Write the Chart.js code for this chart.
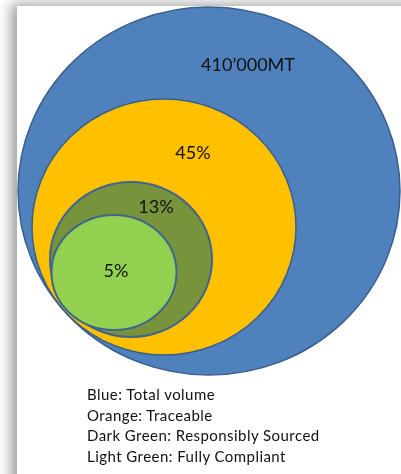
<!DOCTYPE html>
<html>
<head>
<meta charset="utf-8">
<script src="https://cdn.jsdelivr.net/npm/chart.js@4/dist/chart.umd.min.js"></script>
<style>
  html, body { margin: 0; padding: 0; background: #fff; overflow: hidden; }
  #page { position: relative; width: 401px; height: 474px; overflow: hidden; background: #fff; }
  #panel {
    position: absolute; left: 17px; top: 6px; width: 460px; height: 520px;
    background: #fff; box-shadow: -5px -1px 12px 1px rgba(0,0,0,0.38);
  }
  #wrap { position: absolute; left: 0; top: 0; width: 401px; height: 474px; }
  #notes {
    position: absolute; left: 87px; top: 384px;
    font-family: Lato, sans-serif; font-size: 15px; letter-spacing: 0.45px;
    line-height: 20.7px; color: #111;
  }
</style>
</head>
<body>
<div id="page">
  <div id="panel"></div>
  <div id="wrap"><canvas id="circles"></canvas></div>
  <div id="notes"></div>
</div>
<script>
// nested circles, outer to inner
const categories = ['Total volume', 'Traceable', 'Responsibly Sourced', 'Fully Compliant'];
const colourNames = ['Blue', 'Orange', 'Dark Green', 'Light Green'];
const valueLabels = ['410\u2019000MT', '45%', '13%', '5%'];
const centerX = [209, 164, 131, 114];
const centerY = [191, 227, 259.5, 272.5];
const radiusX = [191, 132, 81, 62.5];
const radiusY = [184, 128, 77.5, 57.5];
const labelX = [248, 193, 156, 116];
const labelY = [65, 153, 207, 271];

const fills = ['#4f81bd', '#ffc000', '#77933c', '#92d050'];
const strokes = ['#3a5f8b', '#3a5f8b', '#41648f', '#41648f'];
const strokeWidths = [1.5, 1.5, 2, 2];

// legend lines under the chart
document.getElementById('notes').innerHTML = categories
    .map((c, i) => '<div>' + colourNames[i] + ': ' + c + '</div>')
    .join('');

// draws each dataset as an ellipse using the x/y scales
const ellipsePlugin = {
    id: 'ellipses',
    beforeDatasetsDraw(chart) {
        const { ctx, scales: { x, y } } = chart;
        chart.data.datasets.forEach(ds => {
            const p = ds.data[0];
            const cx = x.getPixelForValue(p.x);
            const cy = y.getPixelForValue(p.y);
            const rx = Math.abs(x.getPixelForValue(p.x + ds.rx) - cx);
            const ry = Math.abs(y.getPixelForValue(p.y + ds.ry) - cy);
            ctx.save();
            ctx.beginPath();
            ctx.ellipse(cx, cy, rx, ry, 0, 0, Math.PI * 2);
            ctx.fillStyle = ds.backgroundColor;
            ctx.fill();
            ctx.lineWidth = ds.borderWidth;
            ctx.strokeStyle = ds.borderColor;
            ctx.stroke();
            ctx.restore();
        });
    },
    afterDatasetsDraw(chart) {
        const { ctx, scales: { x, y } } = chart;
        ctx.save();
        ctx.fillStyle = '#111';
        ctx.textAlign = 'center';
        ctx.textBaseline = 'middle';
        ctx.font = '18px Lato, sans-serif';
        chart.data.datasets.forEach(ds => {
            ctx.fillText(ds.label, x.getPixelForValue(ds.lx), y.getPixelForValue(ds.ly));
        });
        ctx.restore();
    }
};

new Chart(document.getElementById('circles'), {
    type: 'scatter',
    data: {
        datasets: categories.map((c, i) => ({
            label: valueLabels[i],
            data: [{ x: centerX[i], y: centerY[i] }],
            rx: radiusX[i],
            ry: radiusY[i],
            lx: labelX[i],
            ly: labelY[i],
            backgroundColor: fills[i],
            borderColor: strokes[i],
            borderWidth: strokeWidths[i],
            pointRadius: 0
        }))
    },
    options: {
        responsive: true,
        maintainAspectRatio: false,
        animation: false,
        layout: { padding: 0 },
        plugins: { legend: { display: false }, tooltip: { enabled: false } },
        scales: {
            x: { type: 'linear', min: 0, max: 401, display: false },
            y: { type: 'linear', min: 0, max: 474, reverse: true, display: false }
        }
    },
    plugins: [ellipsePlugin]
});
</script>
</body>
</html>
